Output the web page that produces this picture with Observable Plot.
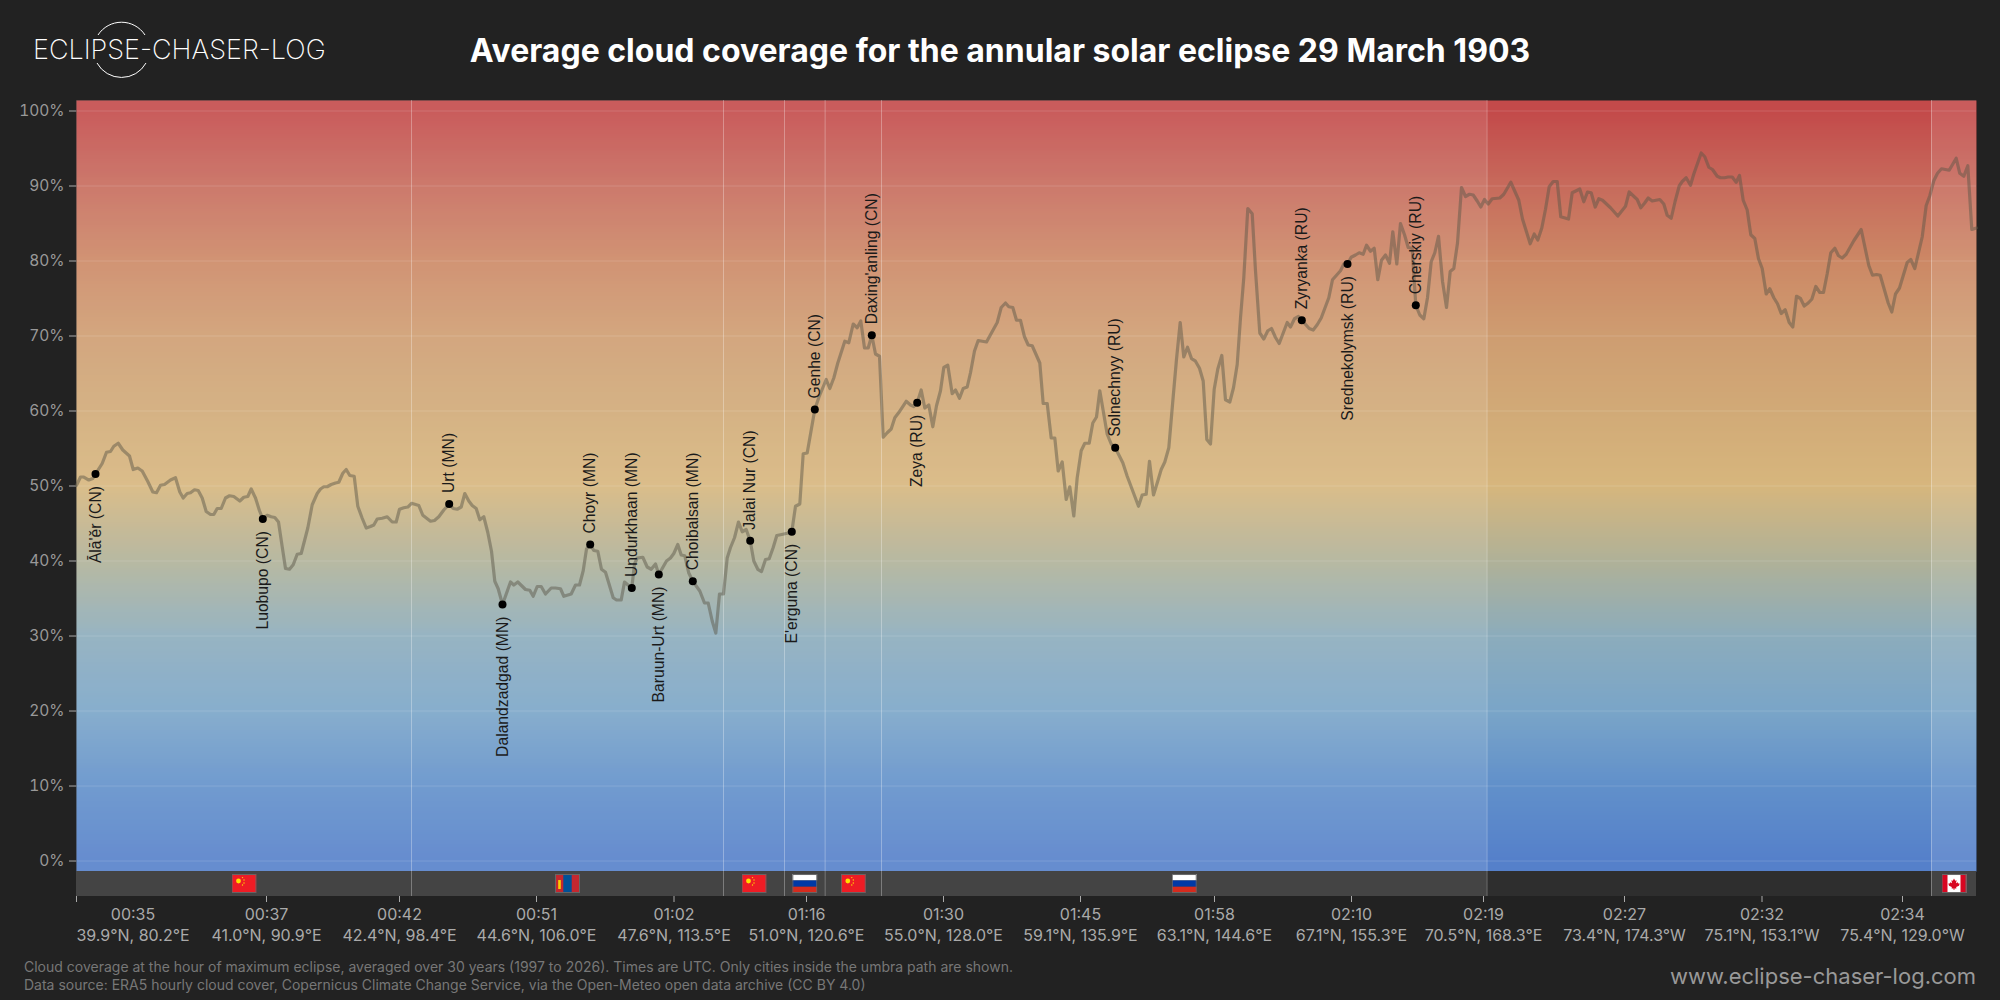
<!DOCTYPE html>
<html><head><meta charset="utf-8">
<script src="https://cdn.jsdelivr.net/npm/d3@7"></script>
<script src="https://cdn.jsdelivr.net/npm/@observablehq/plot@0.6"></script>
<style>
html,body{margin:0;padding:0;background:#222;width:2000px;height:1000px;overflow:hidden;font-family:Inter,sans-serif}
#head{position:relative;height:100px;width:2000px}
#title{position:absolute;left:0;right:0;top:29px;text-align:center;color:#fff;font:700 32px/44px Inter,sans-serif}
#logo{position:absolute;left:0;top:0}
#foot{position:relative;height:50px;width:2000px;color:#777;font:14px/18px Inter,sans-serif}
#cap{position:absolute;left:24px;top:8px}
#url{position:absolute;right:24px;top:12px;color:#999;font:22px/28px Inter,sans-serif}
svg{display:block}
</style></head><body>
<div id="head">
<svg id="logo" width="360" height="100"><path d="M98 35A28 28 0 0 1 145 35M97 63A28 28 0 0 0 146 63" fill="none" stroke="#fff" stroke-width="1"/><text x="33" y="59" fill="#fff" font-family="Inter" font-weight="200" font-size="27">ECLIPSE-CHASER-LOG</text></svg>
<div id="title">Average cloud coverage for the annular solar eclipse 29 March 1903</div>
</div>
<div id="chart"></div>
<div id="foot">
<div id="cap">Cloud coverage at the hour of maximum eclipse, averaged over 30 years (1997 to 2026). Times are UTC. Only cities inside the umbra path are shown.<br>Data source: ERA5 hourly cloud cover, Copernicus Climate Change Service, via the Open-Meteo open data archive (CC BY 4.0)</div>
<div id="url">www.eclipse-chaser-log.com</div>
</div>
<script>
const pathPos=[0,4,7.3,12.3,16.3,19,25.7,30,34,37.3,41.7,46.3,53,56.7,61.3,65.7,71.3,76.3,80,84,88,94,99,103.3,106.7,110.7,114,118,121.7,125.7,129.7,134,137.3,140.7,144.7,149,153,157.3,163.3,167.3,171.3,174.7,179,183,186.3,190.7,194.7,198.3,202,205.7,209,213,216.7,220.7,224.7,231.3,235.7,240.7,244,247.3,250.7,254.7,259,262.3,266.3,269.7,273.3,277.7,281.3,285.7,289.7,294,297.3,300.7,305.7,310.7,315.7,319.7,323,327.3,331.3,335,342.3,346.3,354,358,362.3,367.3,372.7,376.7,380.7,384.7,388.3,392.3,395.7,399.7,403.3,407.3,411.3,415,418.3,421.7,426,434,437.3,441.3,449,453.3,456.7,460.7,464.7,469,474.7,479,484,487.3,494.7,499,503,506.7,510,513.7,517.3,521.3,525,529,536.7,540,544.7,548,552.3,555.3,558,560.7,566.3,570.7,574.7,579,582.3,590,594,597.3,601.3,604.7,608.3,612.3,616.3,623.3,628,631.7,635.7,639.3,643,647,650.7,654,658,662,665.7,669.7,673.7,677.3,681.3,685,689,692.7,696.7,700.3,704,710.7,715.3,719,723.3,726.7,730.7,738.3,742.3,749.7,753.3,757.3,761.3,768.3,772.3,776.7,780.7,784.3,788,791.7,795.3,799,803,806.7,810.7,814.7,818.3,822.3,829.7,834,837.3,840.7,844.7,848.3,852.3,856.3,860,864,867.3,871.3,875.7,879,883,886.7,890.7,894,898,901.7,905.7,910,920.7,924.7,929,932.3,936.3,940,944,948,951.7,955.7,963.3,966.7,970.7,974.7,978.3,981.7,985.7,989.7,993.3,997.3,1000.7,1004.7,1008.3,1012.7,1016.3,1020,1023.3,1030.7,1034.7,1038.7,1046.3,1050.7,1062,1065.7,1069.7,1073,1077,1080.7,1084.7,1088.3,1092.3,1096.3,1100,1103.7,1107.3,1111,1115,1118.7,1123,1126.7,1130.3,1134,1137.7,1141.3,1145.3,1149,1153.3,1157,1160.7,1164,1167.3,1171.3,1175.7,1179,1183.3,1187.3,1191.3,1195,1199,1202.7,1210.7,1214,1218,1222,1225.3,1232.7,1236.7,1240.7,1244.7,1252.3,1256,1264,1267.3,1271,1274.7,1279,1282.7,1286.7,1290,1294,1297.7,1301.3,1305,1309,1313,1316.3,1320.3,1324,1328,1331.7,1335.7,1339.3,1343.3,1347.3,1351,1354.7,1358.3,1362,1366,1370,1373.7,1377.3,1381,1385,1389,1393,1396.7,1400.7,1404.3,1408,1411.7,1415.7,1423.3,1427.3,1434.3,1442.3,1446,1453.7,1457.7,1461.3,1465.3,1469,1472.7,1476.7,1480.7,1484.3,1492,1495.7,1503.3,1507.3,1511,1514.7,1518.7,1522.3,1526,1534,1541.3,1549,1552.7,1560.7,1564.3,1568,1571.7,1575.7,1583.3,1587.3,1590.7,1594.7,1598.7,1602.7,1605.7,1609.7,1614,1617.3,1624.7,1628.3,1632.3,1636,1640.7,1644,1648,1651.7,1655.7,1659.7,1663,1666.7,1670.7,1674.3,1678.3,1682,1685.7,1689.7,1693.3,1697.3,1701,1704.7,1708.7,1712.7,1716.3,1720,1724,1727.7,1731.7,1735.3,1739.3,1743.3,1747,1750.7,1754.3,1758.3,1762,1765.7,1769.7,1777.3,1784.7,1792.3,1796,1800,1803.7,1811.7,1815.3,1819,1823,1830.7,1834.3,1838.3,1845.7,1849.7,1853.3,1857.3,1861,1865,1872.7,1879.7,1883.3,1887.3,1891.3,1895.3,1900];
const coverage=[50.1,51.2,51.2,50.8,51,51.6,53,54.5,54.6,55.3,55.7,54.8,54,52.2,52.4,52,50.6,49.2,49.1,50.1,50.2,50.8,51.1,49.2,48.4,49,49.1,49.5,49.4,48.4,46.6,46.2,46.2,47,47,48.4,48.7,48.6,48,48.5,48.6,49.6,48.4,46.7,45.6,46.1,45.9,45.8,45.2,41.9,39,38.9,39.5,40.9,41,44.4,47.5,49,49.6,49.9,49.9,50.2,50.4,50.5,51.7,52.2,51.4,51.3,47.3,45.7,44.4,44.6,44.8,45.6,45.7,45.9,45.2,45.2,46.9,47.1,47.2,47.7,47.4,46.1,45.3,45.4,45.9,46.8,47.6,47,46.9,47.2,49,48,47.4,47,45.5,45.9,43.8,41.3,37.3,36.3,34.2,37.2,36.8,37.2,36.2,36.1,35.3,36.6,36.6,35.6,36.4,36.4,36.3,35.3,35.6,36.8,36.8,38.7,41.6,42.2,41.4,41.3,38.9,38.5,35.1,34.8,34.8,37.2,36.7,36.4,39.6,40.4,40.5,39.2,38.9,39.6,38.2,40,40.4,41,42.2,40.8,40.7,38.4,37.3,36,34.4,34.4,32,30.4,35.6,35.6,40.4,41.8,43.1,45.2,43.9,44.2,42.7,40,38.9,38.6,40.2,40.3,41.8,43.4,43.5,43.7,43.9,47.3,47.6,54.3,54.4,60.2,61.8,64.2,63,64.4,66.4,69.3,69.1,71.6,71.1,72,68.4,68.4,70.1,67.6,67.3,56.5,57.1,57.6,59.1,59.8,61.3,60.8,60.6,61.1,62.8,60.4,60.8,57.9,60.7,62.7,65.8,66.1,62.3,62.8,61.7,63,63.2,65.1,68,69.4,69.3,69.2,71.8,73.8,74.4,73.9,73.8,72.1,72.1,69.9,68.8,68.7,66.4,61,61,56.4,56.4,52,53.2,48.2,49.9,46,51.1,54.7,55.7,55.7,58.4,59.2,62.7,56.9,55.6,55.1,53.1,51.3,47.3,48.8,48.9,53.3,48.8,50.4,52.2,53.2,55.1,61.3,66.9,71.8,67.2,68.5,67,66.7,65.7,64,56.2,55.6,62.9,65.6,67.4,61.5,61.2,63.1,66.2,72.4,77.8,87,86.3,78.7,70.4,69.6,70.7,71,69.8,69,71.8,71.2,72.3,72.6,72.1,71,70.8,71.5,72.4,75.1,77.5,78.7,79.6,79.6,80.5,80.8,81.1,80.9,82.1,81.3,81.7,77.5,80.1,80.8,79.7,83.9,79.6,85,83.5,81.8,81.7,74.1,72.8,72.3,75.1,79.9,81.1,83.3,77.3,73.8,78.6,79,82.4,89.8,88.6,88.9,88.8,88,87.2,88.2,87.6,88.3,88.4,88.9,90.5,88.1,85.6,82.3,83.6,82.8,84.4,86.9,89.9,90.6,90.6,85.9,85.6,89.1,89.6,87.9,89.2,89.1,87.2,88.3,88.1,87.1,86,87.3,89.2,88.2,87.1,87.7,88.4,88,88.2,87.6,86.1,85.7,88,90,90.6,91.1,90.1,91.6,94.4,93.9,92.5,92.2,91.3,91.1,91.1,91.2,91.2,90.5,91.4,88.1,86.8,83.5,83,80.3,79,75.6,76.3,75.1,74.3,73,73.5,71.8,71.2,75.3,75,74,74.4,74.9,76.6,75.8,75.8,78.3,81.1,81.7,80.7,80.4,80.9,82.7,84.2,79.4,78.1,78.2,78.1,74.4,73.2,75.6,76.4,79.8,80.2,79,83.2,87.4,88.7,90.7,91.7,92.3,92.1,93.7,91.7,91.3,92.7,84.2,84.4];

const cityNames=["Ālā'ěr (CN)","Luobupo (CN)","Urt (MN)","Dalandzadgad (MN)","Choyr (MN)","Undurkhaan (MN)","Baruun-Urt (MN)","Choibalsan (MN)","Jalai Nur (CN)","E'erguna (CN)","Genhe (CN)","Daxing'anling (CN)","Zeya (RU)","Solnechnyy (RU)","Zyryanka (RU)","Srednekolymsk (RU)","Cherskiy (RU)"];
const cityPos=[19,186.3,372.7,426,513.7,555.3,582.3,616.3,673.7,715.3,738.3,795.3,840.7,1038.7,1225.3,1271,1339.3];
const cityCover=[51.6,45.6,47.6,34.2,42.2,36.4,38.2,37.3,42.7,43.9,60.2,70.1,61.1,55.1,72.1,79.6,74.1];
const cityAbove=[false,false,true,false,true,true,false,true,true,false,true,true,false,true,true,false,true];

const borders=[0,335,647,708,748.6,805,1410.5,1855,1900];
const countries=["CN","MN","CN","RU","CN","RU",null,"CA"];

const tickPos=[0,190,323,460,597.5,730,867,1004,1138,1275,1407,1548,1685.5,1826];
const labelPos=[56.5,190,323,460,597.5,730,867,1004,1138,1275,1407,1548,1685.5,1826];
const tickTimes=["00:35","00:37","00:42","00:51","01:02","01:16","01:30","01:45","01:58","02:10","02:19","02:27","02:32","02:34"];
const tickCoords=["39.9°N, 80.2°E","41.0°N, 90.9°E","42.4°N, 98.4°E","44.6°N, 106.0°E","47.6°N, 113.5°E","51.0°N, 120.6°E","55.0°N, 128.0°E","59.1°N, 135.9°E","63.1°N, 144.6°E","67.1°N, 155.3°E","70.5°N, 168.3°E","73.4°N, 174.3°W","75.1°N, 153.1°W","75.4°N, 129.0°W"];

const coverTicks=[0,10,20,30,40,50,60,70,80,90,100];
const gradStops=[0,10,20,30,40,50,60,70,80,90,100];
const gradColors=["rgb(85,128,202)","rgb(97,144,202)","rgb(122,165,200)","rgb(140,172,188)","rgb(176,177,152)","rgb(215,182,125)","rgb(209,170,119)","rgb(206,157,113)","rgb(204,136,101)","rgb(199,107,92)","rgb(195,74,74)"];

const svgUri=s=>"data:image/svg+xml,"+encodeURIComponent(`<svg xmlns="http://www.w3.org/2000/svg" viewBox="0 0 25 19" preserveAspectRatio="none">${s}<rect x=".5" y=".5" width="24" height="18" fill="none" stroke="#666"/></svg>`);
const flagArt={
 CN:svgUri(`<rect width="25" height="19" fill="#ee1c25"/><circle cx="7" cy="7" r="2.4" fill="#ffde00"/><circle cx="11" cy="3.6" r=".7" fill="#ffde00"/><circle cx="12.5" cy="6" r=".7" fill="#ffde00"/><circle cx="12.5" cy="9" r=".7" fill="#ffde00"/><circle cx="11" cy="11" r=".7" fill="#ffde00"/>`),
 MN:svgUri(`<rect width="25" height="19" fill="#c4272f"/><rect x="8.3" width="8.4" height="19" fill="#015197"/><rect x="3.2" y="6" width="2.6" height="9" fill="#f9cf02"/>`),
 RU:svgUri(`<rect width="25" height="6.4" fill="#fff"/><rect y="6.4" width="25" height="6.3" fill="#0039a6"/><rect y="12.7" width="25" height="6.3" fill="#d52b1e"/>`),
 CA:svgUri(`<rect width="25" height="19" fill="#fff"/><rect width="6" height="19" fill="#d80621"/><rect x="19" width="6" height="19" fill="#d80621"/><path d="M12.5 4.5l1.2 2.3 1.4-.6-.6 3 1.8-1 .5 1.4 1.4-.1-.7 2.2-2.8 1.2.2 1.6h-2v1.5h-.8v-1.5h-2l.2-1.6-2.8-1.2-.7-2.2 1.4.1.5-1.4 1.8 1-.6-3 1.4.6z" fill="#d80621"/>`)
};

const segments=countries.map((c,i)=>({country:c,x1:borders[i],x2:borders[i+1],mid:(borders[i]+borders[i+1])/2}));
const landSegments=segments.filter(d=>d.country);
const cities=cityNames.map((name,i)=>({name,x:cityPos[i],y:cityCover[i],above:cityAbove[i]}));
const ticks=tickPos.map((x,i)=>({x,labelX:labelPos[i],text:tickTimes[i]+"\n"+tickCoords[i]}));

const yTop=101.4,yBottom=-4.73,gradBottom=-1.4,flagRow=-3.0,stripTop=-1.4;

const plot=Plot.plot({
  width:2000,height:850,marginTop:0,marginBottom:54,marginLeft:76,marginRight:24,
  style:{background:"transparent",fontFamily:"Inter, sans-serif",overflow:"visible"},
  x:{domain:[0,1900],axis:null},
  y:{domain:[yBottom,yTop],axis:null},
  color:{type:"linear",domain:gradStops,range:gradColors,clamp:true},
  marks:[
    Plot.raster({x1:0,x2:1900,y1:gradBottom,y2:yTop,width:2,height:400,fill:(x,y)=>y}),
    Plot.rect(landSegments,{x1:"x1",x2:"x2",y1:gradBottom,y2:yTop,fill:"#fff",fillOpacity:0.1}),
    Plot.rect([0],{x1:0,x2:1900,y1:yBottom,y2:stripTop,fill:"#2e2e2e"}),
    Plot.rect(landSegments,{x1:"x1",x2:"x2",y1:yBottom,y2:stripTop,fill:"#444"}),
    Plot.ruleY(coverTicks,{y:d=>d,x1:0,x2:1900,stroke:"#fff",strokeOpacity:0.14,strokeWidth:1}),
    Plot.ruleX(borders.slice(1,-1),{x:d=>d,y1:yBottom,y2:yTop,stroke:"#fff",strokeOpacity:0.3,strokeWidth:1}),
    Plot.image(landSegments,{x:"mid",y:flagRow,src:d=>flagArt[d.country],width:25,height:19,preserveAspectRatio:"none"}),
    Plot.axisY({ticks:coverTicks,tickFormat:d=>d+"%",label:null,tickSize:7,tickPadding:5,fontSize:15.5,stroke:"#aaa",fill:"#999"}),
    Plot.axisX({ticks:tickPos,tickFormat:()=>"",label:null,tickSize:6,stroke:"#aaa"}),
    Plot.text(ticks,{x:"labelX",text:"text",frameAnchor:"bottom",lineAnchor:"top",dy:9,lineHeight:1.3,fontSize:16,fill:"#aaa"}),
    Plot.line(coverage,{x:pathPos,y:coverage,stroke:"#5a5648",strokeOpacity:0.48,strokeWidth:3.2}),
    Plot.dot(cities,{x:"x",y:"y",r:4,fill:"#000"}),
    Plot.text(cities.filter(d=>d.above),{x:"x",y:"y",text:"name",rotate:-90,textAnchor:"start",lineAnchor:"middle",dy:-11,fontSize:15.7,fontFamily:"Liberation Sans",fill:"#1a1a1a"}),
    Plot.text(cities.filter(d=>!d.above),{x:"x",y:"y",text:"name",rotate:-90,textAnchor:"end",lineAnchor:"middle",dy:12,fontSize:15.7,fontFamily:"Liberation Sans",fill:"#1a1a1a"})
  ]
});
document.getElementById("chart").append(plot);
</script>
</body></html>
